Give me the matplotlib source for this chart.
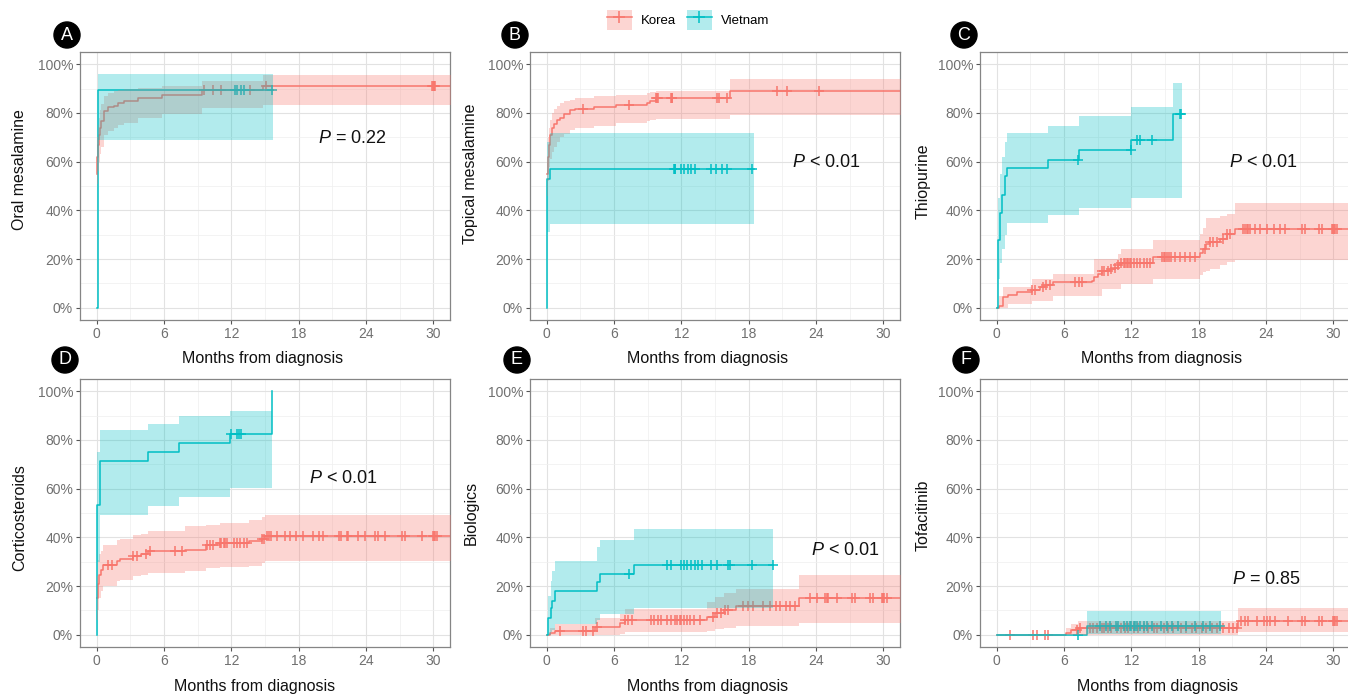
import numpy as np
import matplotlib
matplotlib.use("Agg")
import matplotlib.pyplot as plt
from matplotlib.patches import Patch
from matplotlib.lines import Line2D
from matplotlib.legend_handler import HandlerTuple
from matplotlib.ticker import MultipleLocator

plt.rcParams['font.family'] = ['Liberation Sans', 'DejaVu Sans']
plt.rcParams['mathtext.fontset'] = 'custom'
plt.rcParams['mathtext.it'] = 'Liberation Sans:italic'
plt.rcParams['mathtext.rm'] = 'Liberation Sans'

# ---------------- data ----------------
groups = ['Korea', 'Vietnam']
colors = ['#F8766D', '#00BFC4']
panel_letters = ['A', 'B', 'C', 'D', 'E', 'F']
ylabels = ['Oral mesalamine', 'Topical mesalamine', 'Thiopurine',
           'Corticosteroids', 'Biologics', 'Tofacitinib']
pvalue_texts = [r'$\it{P}$ = 0.22', r'$\it{P}$ < 0.01', r'$\it{P}$ < 0.01',
                r'$\it{P}$ < 0.01', r'$\it{P}$ < 0.01', r'$\it{P}$ = 0.85']
pvalue_pos = [(22.8, 69.4), (24.9, 59.8), (23.8, 59.8),
              (22.0, 64.0), (26.6, 34.5), (24.0, 22.6)]
xlabel = 'Months from diagnosis'
xticks = [0, 6, 12, 18, 24, 30]
yticks = [0, 20, 40, 60, 80, 100]
ytick_labels = ['0%', '20%', '40%', '60%', '80%', '100%']

# A: Oral mesalamine
A_kor_t = [0, 0.05, 0.1, 0.2, 0.3, 0.4, 0.6, 1.0, 1.5, 1.9, 2.4, 3.7, 5.8, 9.35, 14.8]
A_kor_v = [55, 62, 67, 71, 74, 76.5, 80.6, 82.3, 83, 84, 85, 86, 87.4, 89.5, 91.2]
A_kor_lo = [45, 51, 56, 60, 63, 66, 71, 72.5, 74, 75, 76, 78, 79.5, 82, 83.3]
A_kor_hi = [63, 70, 75, 78, 81, 83.5, 87, 88, 88.8, 89.3, 89.8, 90.3, 91, 93, 95.5]
A_kor_cens = [9.6, 10.4, 11.1, 13.7, 15.1, 29.9, 30.0, 30.05, 30.1, 30.2]
A_kor_end = 33
A_vie_t = [0, 0.08]
A_vie_v = [0, 89.5]
A_vie_lo = [0, 69]
A_vie_hi = [0, 96]
A_vie_cens = [12.3, 12.5, 12.9, 13.1, 15.6]
A_vie_end = 15.7

# B: Topical mesalamine
B_kor_t = [0, 0.1, 0.2, 0.3, 0.45, 0.6, 0.9, 1.2, 1.5, 2.1, 2.5, 4.2, 6.2, 8.9, 9.2, 9.7, 16.3]
B_kor_v = [55, 62, 67, 71, 74, 75.5, 77, 78, 79.5, 81, 81.5, 82.4, 83.2, 84, 85, 86.1, 89.1]
B_kor_lo = [46, 52, 58, 61, 64, 66, 68, 70, 71.5, 73, 74, 74.5, 75.9, 76.5, 77, 77.5, 79.3]
B_kor_hi = [60, 70, 74, 77, 80, 81.5, 83, 84, 85, 85.4, 86, 87, 87.5, 88, 88.5, 89, 93.9]
B_kor_cens = [3.2, 7.3, 9.75, 9.85, 9.95, 11.05, 11.15, 11.2, 15.15, 15.4, 16.1, 20.5, 21.4, 24.3]
B_kor_end = 33
B_vie_t = [0, 0.05, 0.3]
B_vie_v = [0, 53, 57]
B_vie_lo = [0, 31, 34.5]
B_vie_hi = [0, 68, 71.8]
B_vie_cens = [11.35, 11.4, 11.45, 12.0, 12.2, 12.6, 12.9, 13.2, 14.6, 15.1, 15.6, 16.1, 18.3]
B_vie_end = 18.5

# C: Thiopurine
C_kor_t = [0, 0.2, 0.57, 1.0, 1.8, 3.1, 3.84, 4.3, 5.0, 8.45, 8.7, 9.0, 9.35, 10.1, 10.5, 10.8,
           11.1, 13.95, 18.1, 18.4, 18.7, 19.0, 19.9, 20.5, 21.25]
C_kor_v = [0, 0.8, 4.3, 5.3, 6.3, 7.4, 8.4, 9.3, 10.4, 11.0, 12.8, 13.8, 15.1, 15.8, 16.5, 17.5,
           18.3, 21.0, 22.7, 24.0, 26.1, 27.0, 28.4, 30.2, 32.5]
C_kor_lo = [0, 0, 0, 1.5, 1.5, 2.9, 2.9, 2.9, 4.9, 4.9, 4.9, 4.9, 7.6, 7.6, 7.6, 7.6,
            9.7, 11.7, 13.5, 14.5, 15.0, 16.0, 17.5, 18.7, 19.6]
C_kor_hi = [0, 5, 8.7, 8.7, 8.7, 11.7, 11.7, 11.7, 13.8, 13.8, 19.9, 19.9, 19.9, 19.9, 20, 22,
            24, 28, 30.5, 32.9, 37, 37, 37.5, 38.5, 43.1]
C_kor_cens = [3.1, 3.4, 4.1, 4.4, 4.7, 7.0, 7.3, 7.6, 9.35, 9.6, 9.9, 10.2, 10.5, 10.8,
              11.1, 11.3, 11.4, 11.6, 11.7, 11.9, 12.0, 12.2, 12.5, 12.8, 13.1, 13.4, 13.7,
              14.7, 14.9, 15.0, 15.2, 15.4, 15.5, 15.9, 16.3, 16.8, 17.2, 17.7, 18.6,
              19.0, 19.3, 19.6, 20.2, 20.5, 20.8, 22.0, 22.1, 22.3, 22.4, 22.6, 23.0, 23.5,
              24.1, 24.7, 25.3, 25.7, 27.2, 27.5, 28.7, 29.0, 29.9, 30.0, 30.1, 30.2, 30.3]
C_kor_end = 33
C_vie_t = [0, 0.1, 0.3, 0.5, 0.75, 0.95, 4.6, 7.35, 12.0, 15.7]
C_vie_v = [0, 28, 39, 46.5, 54, 57.4, 60.8, 64.7, 69, 79.5]
C_vie_lo = [0, 12, 18.5, 24, 30, 35, 38, 41, 45, 45]
C_vie_hi = [0, 45, 55, 62, 68, 71.8, 74.8, 78.6, 82.4, 92.2]
C_vie_cens = [7.25, 11.95, 12.5, 12.8, 13.8, 16.3, 16.4]
C_vie_end = 16.5

# D: Corticosteroids
D_kor_t = [0, 0.1, 0.2, 0.35, 0.55, 1.76, 2.05, 3.24, 3.9, 4.6, 7.86, 9.7, 11.0, 13.6, 14.7, 15.0]
D_kor_v = [15, 21, 24.7, 26.7, 28.8, 30.1, 31.2, 32.2, 33.3, 34.2, 34.9, 37, 37.7, 38.4, 39.5, 40.5]
D_kor_lo = [6, 10.3, 15, 18, 20, 21.9, 22.5, 24, 24.5, 25.3, 26.3, 27.4, 28, 28.4, 29.5, 30.1]
D_kor_hi = [24, 30.8, 33, 34.2, 37, 39, 39.5, 41.1, 41.5, 42.5, 44.5, 45, 45.9, 47.3, 48.5, 49.3]
D_kor_cens = [1.0, 1.31, 3.25, 3.55, 4.4, 4.7, 7.0, 7.6, 9.8, 10.1, 10.4, 11.0, 11.1, 11.3,
              11.4, 11.6, 12.2, 12.5, 12.8, 13.1, 13.4, 14.7, 14.9, 15.2, 15.4, 15.5, 16.1,
              16.8, 17.2, 17.8, 18.4, 19.3, 19.8, 20.2, 21.6, 21.8, 22.3, 22.4, 23.3, 23.9,
              24.8, 25.1, 25.7, 27.2, 27.5, 29.0, 30.0, 30.1, 30.2, 30.3]
D_kor_end = 33
D_vie_t = [0, 0.05, 0.3, 4.6, 7.3, 11.9, 15.6]
D_vie_v = [0, 53.4, 71.5, 75.2, 78.8, 82.5, 100]
D_vie_lo = [0, 30, 49, 53, 56.4, 60.3, np.nan]
D_vie_hi = [0, 75, 84, 86.6, 89.7, 92, np.nan]
D_vie_cens = [12.0, 12.5, 12.7, 12.9]
D_vie_end = 15.6

# E: Biologics
E_kor_t = [0, 0.3, 0.7, 4.3, 6.5, 7.0, 14.3, 15.0, 15.8, 16.9, 22.5]
E_kor_v = [0, 0.8, 1.6, 3.3, 4.8, 6.2, 7.5, 8.9, 10.3, 12, 15.3]
E_kor_lo = [0, 0, 0, 0, 0.5, 1.2, 1.6, 2.2, 2.9, 3.5, 4.9]
E_kor_hi = [0, 3, 4.5, 7, 8.5, 10.7, 13.5, 15.6, 17, 19, 24.7]
E_kor_cens = [1.2, 3.2, 3.5, 4.1, 4.5, 7.0, 7.2, 7.6, 9.3, 9.6, 9.9, 10.2, 10.7, 11.1, 11.4,
              11.6, 11.9, 12.0, 12.2, 12.5, 12.8, 13.1, 13.7, 14.8, 15.2, 15.5, 15.9, 16.2,
              17.5, 17.9, 18.4, 19.3, 19.9, 20.4, 20.8, 21.3, 21.7, 22.1, 23.5, 24.1, 24.8,
              25.0, 25.1, 25.9, 27.2, 27.5, 28.8, 29.1, 29.9, 30.0, 30.1, 30.3]
E_kor_end = 33
E_vie_t = [0, 0.1, 0.4, 0.5, 0.7, 4.5, 4.7, 7.8]
E_vie_v = [0, 7, 11, 14, 17.8, 21.5, 25, 28.8]
E_vie_lo = [0, 0, 1, 2, 4.5, 6, 8.5, 11]
E_vie_hi = [0, 16, 22, 26, 30.4, 36, 39, 43.6]
E_vie_cens = [7.3, 10.7, 11.1, 12.0, 12.2, 12.5, 12.9, 13.2, 13.5, 13.8, 14.6, 15.2,
              16.2, 16.3, 18.3, 20.2]
E_vie_end = 20.2

# F: Tofacitinib
F_kor_t = [0, 6.2, 6.6, 7.2, 21.5]
F_kor_v = [0, 0.9, 1.9, 2.8, 5.8]
F_kor_lo = [0, 0, 0, 0, 1.0]
F_kor_hi = [0, 3, 4.5, 5.5, 11.2]
F_kor_cens = [1.16, 3.25, 3.54, 4.29, 4.58, 7.11, 7.41, 8.3, 8.6, 8.9, 9.35, 9.6, 9.9, 10.2,
              10.7, 11.1, 11.4, 11.7, 12.2, 12.6, 13.1, 13.5, 14.0, 14.3, 14.9, 15.3, 15.7,
              16.4, 16.9, 17.4, 17.8, 18.3, 18.7, 19.2, 19.6, 20.2, 20.7, 21.1, 21.4, 21.8,
              22.1, 22.4, 23.2, 23.8, 24.1, 24.4, 24.8, 26.0, 27.2, 27.5, 28.7, 29.0, 30.0,
              30.1, 30.2, 30.3]
F_kor_end = 33
F_vie_t = [0, 8.0]
F_vie_v = [0, 3.7]
F_vie_lo = [0, 0.3]
F_vie_hi = [0, 9.6]
F_vie_cens = [7.2, 9.2, 9.7, 10.1, 10.6, 10.8, 11.3, 11.6, 11.9, 12.0, 12.2, 12.3, 12.5, 12.8,
              13.1, 13.4, 13.8, 14.6, 15.2, 15.6, 16.2, 16.9, 17.7, 18.4, 19.0, 19.9]
F_vie_end = 20.0

panels = [
    [(A_kor_t, A_kor_v, A_kor_lo, A_kor_hi, A_kor_cens, A_kor_end),
     (A_vie_t, A_vie_v, A_vie_lo, A_vie_hi, A_vie_cens, A_vie_end)],
    [(B_kor_t, B_kor_v, B_kor_lo, B_kor_hi, B_kor_cens, B_kor_end),
     (B_vie_t, B_vie_v, B_vie_lo, B_vie_hi, B_vie_cens, B_vie_end)],
    [(C_kor_t, C_kor_v, C_kor_lo, C_kor_hi, C_kor_cens, C_kor_end),
     (C_vie_t, C_vie_v, C_vie_lo, C_vie_hi, C_vie_cens, C_vie_end)],
    [(D_kor_t, D_kor_v, D_kor_lo, D_kor_hi, D_kor_cens, D_kor_end),
     (D_vie_t, D_vie_v, D_vie_lo, D_vie_hi, D_vie_cens, D_vie_end)],
    [(E_kor_t, E_kor_v, E_kor_lo, E_kor_hi, E_kor_cens, E_kor_end),
     (E_vie_t, E_vie_v, E_vie_lo, E_vie_hi, E_vie_cens, E_vie_end)],
    [(F_kor_t, F_kor_v, F_kor_lo, F_kor_hi, F_kor_cens, F_kor_end),
     (F_vie_t, F_vie_v, F_vie_lo, F_vie_hi, F_vie_cens, F_vie_end)],
]

# ---------------- layout ----------------
W, H = 1348, 700
fig = plt.figure(figsize=(W / 100, H / 100), dpi=100)

col_left = [80, 530, 980]
ax_w = 370
row_top = [52, 379]
ax_h = 268
ylabel_x = [20, 471, 923]
ylabel_y = [[170, 174, 181], [518, 513, 515]]
xlabel_x = [[263, 708, 1162], [255, 708, 1158]]
xlabel_y = [358, 686]
letter_pos = [[(67, 35), (515, 35), (964, 35)], [(65, 360), (517, 360), (966, 360)]]


def fill_nan_forward(a):
    a = a.copy()
    for k in range(1, len(a)):
        if np.isnan(a[k]):
            a[k] = a[k - 1]
    return a


def draw_curve(ax, t, v, lo, hi, cens, t_end, color):
    t = np.asarray(t, float)
    v = np.asarray(v, float)
    lo = fill_nan_forward(np.asarray(lo, float))
    hi = fill_nan_forward(np.asarray(hi, float))
    if t_end > t[-1]:
        tt = np.append(t, t_end)
        vv = np.append(v, v[-1])
        ll = np.append(lo, lo[-1])
        hh = np.append(hi, hi[-1])
    else:
        tt, vv, ll, hh = t, v, lo, hi
    ax.step(tt, vv, where='post', color=color, lw=1.1, zorder=2)
    ax.fill_between(tt, ll, hh, step='post', color=color, alpha=0.3, lw=0, zorder=3)
    c = np.asarray(cens, float)
    idx = np.searchsorted(t, c, side='right') - 1
    ax.plot(c, v[idx], ls='none', marker='+', ms=7.5, mew=1.1, color=color, zorder=2)


for i, curves in enumerate(panels):
    r, cidx = divmod(i, 3)
    left = col_left[cidx] / W
    bottom = 1 - (row_top[r] + ax_h) / H
    ax = fig.add_axes([left, bottom, ax_w / W, ax_h / H])
    ax.set_xlim(-1.5, 31.5)
    ax.set_ylim(-5, 105)
    ax.set_xticks(xticks)
    ax.set_xticklabels([str(x) for x in xticks])
    ax.set_yticks(yticks)
    ax.set_yticklabels(ytick_labels)
    ax.xaxis.set_minor_locator(MultipleLocator(3))
    ax.yaxis.set_minor_locator(MultipleLocator(10))
    ax.grid(which='major', color='#e2e2e2', lw=0.8, zorder=0)
    ax.grid(which='minor', color='#efefef', lw=0.5, zorder=0)
    ax.set_axisbelow(True)
    ax.tick_params(which='major', length=3, width=0.8, color='#555555',
                   labelcolor='#707070', labelsize=10, pad=2)
    ax.tick_params(which='minor', length=0)
    for s in ax.spines.values():
        s.set_color('#858585')
        s.set_linewidth(0.9)

    for (t, v, lo, hi, cens, t_end), col in zip(curves, colors):
        draw_curve(ax, t, v, lo, hi, cens, t_end, col)

    px, py = pvalue_pos[i]
    ax.text(px, py, pvalue_texts[i], fontsize=13, ha='center', va='center', color='#111111')

    fig.text(ylabel_x[cidx] / W, 1 - ylabel_y[r][cidx] / H, ylabels[i], rotation=90,
             ha='center', va='center', fontsize=11.5, color='#111111')
    fig.text(xlabel_x[r][cidx] / W, 1 - xlabel_y[r] / H, xlabel,
             ha='center', va='center', fontsize=11.5, color='#111111')
    lx, ly = letter_pos[r][cidx]
    fig.text(lx / W, 1 - ly / H, panel_letters[i], ha='center', va='center',
             fontsize=13, color='white',
             bbox=dict(boxstyle='circle,pad=0.25', fc='black', ec='black'))

handles = [(Patch(facecolor=c, alpha=0.3, lw=0),
            Line2D([0], [0], color=c, lw=1.1, marker='+', ms=9, mew=1.1)) for c in colors]
fig.legend(handles, groups, handler_map={tuple: HandlerTuple(ndivide=1)},
           loc='center', bbox_to_anchor=(688 / W, 1 - 20 / H), ncol=2, frameon=False,
           fontsize=9.5, handlelength=1.9, handleheight=1.9, numpoints=1,
           columnspacing=0.8, handletextpad=0.7)

fig.savefig('out.png', dpi=100)
